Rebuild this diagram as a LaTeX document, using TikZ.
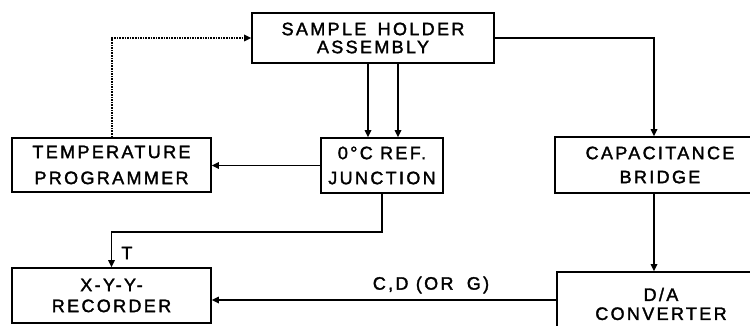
\documentclass[tikz,border=0pt]{standalone}
\usepackage{fontspec}
\setmainfont{Liberation Sans}[LetterSpace=13,FakeBold=1.8]
\usetikzlibrary{arrows.meta}
\begin{document}
\begin{tikzpicture}[x=1pt,y=-1pt,
  box/.style={draw, line width=1.6pt, inner sep=0pt, align=center},
  fs/.style={font=\fontsize{18}{#1}\selectfont},
  arr/.style={line width=1.6pt, -{Triangle[length=7pt,width=6.5pt]}},
  lbl/.style={font=\fontsize{18}{20}\selectfont, inner sep=0pt}]
\useasboundingbox (0,0) rectangle (750,326);
\node[box, fs=18, minimum width=242pt, minimum height=50pt] (sample) at (373,38) {SAMPLE\hspace{4pt} HOLDER\\ASSEMBLY};
\node[box, fs=26, minimum width=199pt, minimum height=54pt] (prog) at (111.5,165) {TEMPERATURE\\PROGRAMMER};
\node[box, fs=25, minimum width=122pt, minimum height=55pt] (junc) at (382,165.5) {0°C REF.\\JUNCTION};
\node[box, fs=24, minimum width=210pt, minimum height=56pt] (bridge) at (660,165) {CAPACITANCE\\BRIDGE};
\node[box, fs=21, minimum width=199pt, minimum height=55pt] (rec) at (111.5,295.5) {X-Y-Y-\\RECORDER};
\node[box, fs=19, minimum width=208pt, minimum height=64pt] (da) at (661,304) {D/A\\CONVERTER};
\coordinate (c1) at (654,0);
\coordinate (a1) at (368,0);
\coordinate (a2) at (398,0);
\coordinate (d1) at (112,0);
\coordinate (k) at (0,232);
\coordinate (y3) at (0,300);
\draw[arr] (sample.east) -| (bridge.north -| c1);
\draw[arr] (bridge.south -| c1) -- (da.north -| c1);
\draw[arr] (sample.south -| a1) -- (junc.north -| a1);
\draw[arr] (sample.south -| a2) -- (junc.north -| a2);
\draw[arr] (junc.west) -- (junc.west -| prog.east);
\draw[arr, densely dotted] (prog.north -| d1) |- (sample.west);
\draw[arr] (junc.south) -- (junc.south |- k) -| (rec.north);
\draw[arr] (da.west |- y3) -- (rec.east |- y3);
\node[lbl] (tl) at (127,253) {T};
\node[lbl] (cd) at (431,285) {C,D (OR\hspace{6pt} G)};
\end{tikzpicture}
\end{document}
